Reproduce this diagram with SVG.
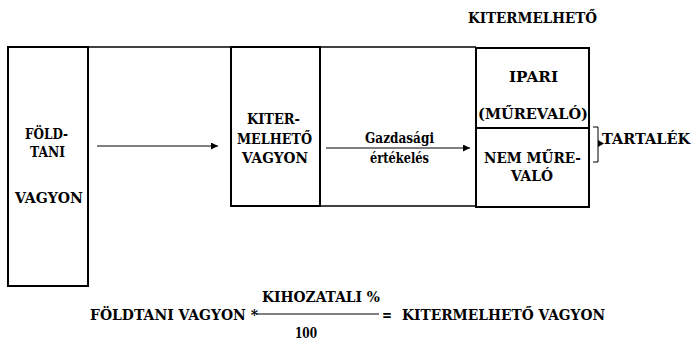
<svg xmlns="http://www.w3.org/2000/svg" width="693" height="342" viewBox="0 0 693 342">
  <style>
    text { font-family: 'DejaVu Serif', 'Liberation Serif', serif; font-weight: bold; font-size: 15px; fill: #000; }
    .box { fill: none; stroke: #000; stroke-width: 2; }
    .ln { fill: none; stroke: #000; stroke-width: 1.3; }
    .arr { fill: none; stroke: #000; stroke-width: 1; }
  </style>
  <defs>
    <marker id="ah" viewBox="0 0 10 10" refX="10" refY="5" markerWidth="8" markerHeight="7" markerUnits="userSpaceOnUse" orient="auto">
      <path d="M0,0 L10,5 L0,10 z" fill="#000"/>
    </marker>
  </defs>
  <rect width="693" height="342" fill="#fff"/>

  <g id="frame">
    <line class="ln" x1="88" y1="47" x2="476" y2="47"/>
    <line class="ln" x1="320" y1="206" x2="476" y2="206"/>
  </g>

  <g id="foldtani">
    <rect class="box" x="8" y="47" width="80" height="239"/>
    <text x="25" y="139" textLength="43" lengthAdjust="spacingAndGlyphs">FÖLD-</text>
    <text x="30" y="157" textLength="35" lengthAdjust="spacingAndGlyphs">TANI</text>
    <text x="15" y="203" textLength="68" lengthAdjust="spacingAndGlyphs">VAGYON</text>
  </g>

  <g id="kitermelheto">
    <rect class="box" x="231" y="47" width="89" height="159"/>
    <text x="247" y="124" textLength="53" lengthAdjust="spacingAndGlyphs">KITER-</text>
    <text x="237" y="144" textLength="75" lengthAdjust="spacingAndGlyphs">MELHETŐ</text>
    <text x="242" y="163" textLength="66" lengthAdjust="spacingAndGlyphs">VAGYON</text>
  </g>

  <g id="tartalek-box">
    <rect class="box" x="476" y="48" width="113" height="159"/>
    <line class="box" x1="476" y1="128" x2="589" y2="128"/>
    <text x="509" y="82" textLength="49" lengthAdjust="spacingAndGlyphs">IPARI</text>
    <text x="478" y="119" textLength="110" lengthAdjust="spacingAndGlyphs">(MŰREVALÓ)</text>
    <text x="484" y="163" textLength="97" lengthAdjust="spacingAndGlyphs">NEM MŰRE-</text>
    <text x="511" y="181" textLength="42" lengthAdjust="spacingAndGlyphs">VALÓ</text>
  </g>

  <g id="top-label">
    <text x="468" y="23" textLength="129" lengthAdjust="spacingAndGlyphs">KITERMELHETŐ</text>
  </g>

  <g id="tartalek">
    <path class="arr" d="M593,127 H598 V162 H593"/>
    <path d="M598,140 L604,143.5 L598,147 z" fill="#000"/>
    <text x="602" y="144" textLength="88" lengthAdjust="spacingAndGlyphs">TARTALÉK</text>
  </g>

  <g id="connectors">
    <line class="arr" x1="97" y1="146" x2="218" y2="146" marker-end="url(#ah)"/>
    <line class="arr" x1="326" y1="148" x2="470" y2="148" marker-end="url(#ah)"/>
  </g>

  <g id="gazdasagi-label">
    <text x="365" y="143" textLength="69" lengthAdjust="spacingAndGlyphs">Gazdasági</text>
    <text x="370" y="163" textLength="59" lengthAdjust="spacingAndGlyphs">értékelés</text>
  </g>

  <g id="formula">
    <text x="90" y="320" textLength="168" lengthAdjust="spacingAndGlyphs">FÖLDTANI VAGYON *</text>
    <text x="262" y="302" textLength="118" lengthAdjust="spacingAndGlyphs">KIHOZATALI %</text>
    <line class="arr" x1="256" y1="314" x2="379" y2="314"/>
    <text x="295" y="338" textLength="22" lengthAdjust="spacingAndGlyphs">100</text>
    <text x="382" y="320" textLength="10" lengthAdjust="spacingAndGlyphs">=</text>
    <text x="402" y="320" textLength="203" lengthAdjust="spacingAndGlyphs">KITERMELHETŐ VAGYON</text>
  </g>
</svg>
